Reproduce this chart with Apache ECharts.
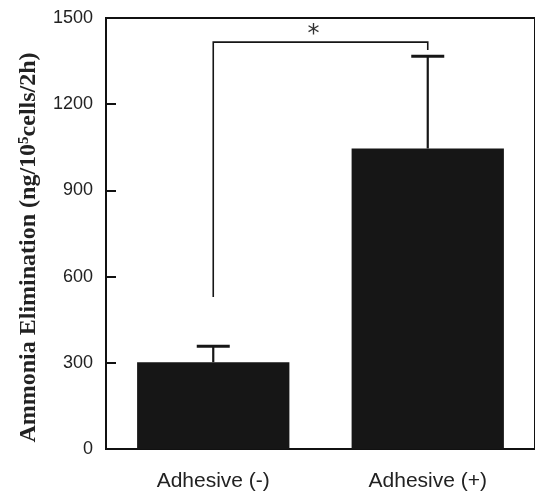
<!DOCTYPE html>
<html>
<head>
<meta charset="utf-8">
<script src="https://cdn.jsdelivr.net/npm/echarts@6/dist/echarts.min.js"></script>
<style>
    html, body { margin: 0; padding: 0; background: #fff; }
    #chart { width: 535px; height: 492px; }
</style>
</head>
<body>
<div id="chart"></div>
<script>
// data
var categories = ['Adhesive (-)', 'Adhesive (+)'];
var means = [302, 1046];
var errors = [56, 321];
var yTicks = [0, 300, 600, 900, 1200, 1500];
// significance bracket: [top, left end, right end, star level]
var bracket = [1416, 529, 1389, 1442];

var chart = echarts.init(document.getElementById('chart'));

// error bars, only the upper half shows above the bar
function renderError(params, api) {
    var idx = api.value(0);
    var base = api.coord([idx, api.value(1)]);
    var top = api.coord([idx, api.value(1) + api.value(2)]);
    var half = 16.5;
    return {
        type: 'group',
        children: [
            { type: 'line', shape: { x1: top[0], y1: base[1], x2: top[0], y2: top[1] }, style: { stroke: '#161616', lineWidth: 2.2 } },
            { type: 'line', shape: { x1: top[0] - half, y1: top[1], x2: top[0] + half, y2: top[1] }, style: { stroke: '#161616', lineWidth: 3 } }
        ]
    };
}

// significance bracket + star
function renderBracket(params, api) {
    var lTop = api.coord([0, api.value(0)]);
    var rTop = api.coord([1, api.value(0)]);
    var lEnd = api.coord([0, api.value(1)]);
    var rEnd = api.coord([1, api.value(2)]);
    var star = api.coord([0, api.value(3)]);
    return {
        type: 'group',
        children: [
            { type: 'polyline', shape: { points: [lEnd, lTop, rTop, rEnd] }, style: { stroke: '#161616', lineWidth: 1.6, fill: null } },
            { type: 'text', x: (lTop[0] + rTop[0]) / 2 - 7, y: star[1], style: { text: '*', fill: '#333', font: '24px "DejaVu Sans"', align: 'center', verticalAlign: 'middle' } }
        ]
    };
}

chart.setOption({
    animation: false,
    grid: {
        left: 106,
        right: -2.6,
        top: 18,
        bottom: 43,
        show: true,
        borderColor: '#111',
        borderWidth: 2
    },
    xAxis: {
        type: 'category',
        data: categories,
        axisLine: { lineStyle: { color: '#111', width: 2 } },
        axisTick: { inside: true, length: 9, lineStyle: { color: '#111', width: 2 } },
        axisLabel: {
            color: '#222',
            fontFamily: 'Liberation Sans',
            fontSize: 21,
            margin: 22
        }
    },
    yAxis: {
        type: 'value',
        min: yTicks[0],
        max: yTicks[yTicks.length - 1],
        interval: yTicks[1] - yTicks[0],
        splitLine: { show: false },
        axisLine: { show: true, lineStyle: { color: '#111', width: 2 } },
        axisTick: { show: true, inside: true, length: 10, lineStyle: { color: '#111', width: 2 } },
        axisLabel: {
            color: '#222',
            fontFamily: 'Liberation Sans',
            fontSize: 18,
            margin: 13,
            formatter: function (v) { return String(v); }
        },
        name: '{a|Ammonia Elimination (ng/10}{s|5}{a|cells/2h)}',
        nameLocation: 'middle',
        nameRotate: 90,
        nameGap: 65,
        nameTextStyle: {
            padding: [0, 28, 0, 0],
            rich: {
                a: { fontFamily: 'Liberation Serif', fontWeight: 'bold', fontSize: 24, color: '#222' },
                s: { fontFamily: 'Liberation Serif', fontWeight: 'bold', fontSize: 15, color: '#222', verticalAlign: 'top' }
            }
        }
    },
    series: [
        {
            type: 'bar',
            data: means,
            barCategoryGap: '29%',
            itemStyle: { color: '#161616' },
            z: 2
        },
        {
            type: 'custom',
            renderItem: renderError,
            data: means.map(function (m, i) { return [i, m, errors[i]]; }),
            z: 3
        },
        {
            type: 'custom',
            renderItem: renderBracket,
            encode: { x: -1, y: 0 },
            data: [bracket],
            z: 3
        }
    ]
});
</script>
</body>
</html>
